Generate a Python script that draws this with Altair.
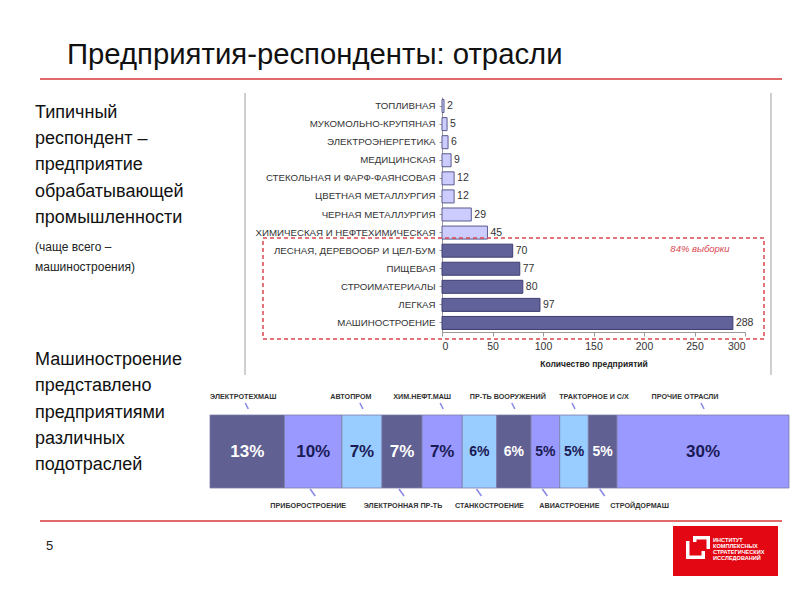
import altair as alt
import pandas as pd

# ---------------- data ----------------
industries = [
    "ТОПЛИВНАЯ", "МУКОМОЛЬНО-КРУПЯНАЯ", "ЭЛЕКТРОЭНЕРГЕТИКА", "МЕДИЦИНСКАЯ",
    "СТЕКОЛЬНАЯ И ФАРФ-ФАЯНСОВАЯ", "ЦВЕТНАЯ МЕТАЛЛУРГИЯ", "ЧЕРНАЯ МЕТАЛЛУРГИЯ",
    "ХИМИЧЕСКАЯ И НЕФТЕХИМИЧЕСКАЯ", "ЛЕСНАЯ, ДЕРЕВООБР И ЦЕЛ-БУМ", "ПИЩЕВАЯ",
    "СТРОИМАТЕРИАЛЫ", "ЛЕГКАЯ", "МАШИНОСТРОЕНИЕ",
]
counts = [2, 5, 6, 9, 12, 12, 29, 45, 70, 77, 80, 97, 288]
major_count = 5          # last five industries make up 84% of the sample
x_ticks = [0, 50, 100, 150, 200, 250, 300]

subsectors = [
    "ЭЛЕКТРОТЕХМАШ", "ПРИБОРОСТРОЕНИЕ", "АВТОПРОМ", "ЭЛЕКТРОННАЯ ПР-ТЬ",
    "ХИМ.НЕФТ.МАШ", "СТАНКОСТРОЕНИЕ", "ПР-ТЬ ВООРУЖЕНИЙ", "АВИАСТРОЕНИЕ",
    "ТРАКТОРНОЕ И С/Х", "СТРОЙДОРМАШ", "ПРОЧИЕ ОТРАСЛИ",
]
shares = [13, 10, 7, 7, 7, 6, 6, 5, 5, 5, 30]

title_text = "Предприятия-респонденты: отрасли"
left_text_1 = ["Типичный", "респондент  –", "предприятие", "обрабатывающей", "промышленности"]
left_note = ["(чаще всего –", "машиностроения)"]
left_text_2 = ["Машиностроение", "представлено", "предприятиями", "различных", "подотраслей"]
x_title = "Количество предприятий"
highlight_text = "84% выборки"
page_number = "5"
logo_lines = ["ИНСТИТУТ", "КОМПЛЕКСНЫХ", "СТРАТЕГИЧЕСКИХ", "ИССЛЕДОВАНИЙ"]

# ---------------- tables ----------------
bar_df = pd.DataFrame({
    "industry": industries,
    "count": counts,
    "major": [i >= len(industries) - major_count for i in range(len(industries))],
})

ends = pd.Series(shares).cumsum()
seg_df = pd.DataFrame({
    "name": subsectors,
    "share": shares,
    "start": ends - pd.Series(shares),
    "end": ends,
})
seg_df["mid"] = (seg_df["start"] + seg_df["end"]) / 2
seg_df["label"] = seg_df["share"].astype(str) + "%"
seg_df["shade"] = [["dark", "medium", "light"][i % 3] for i in range(len(seg_df))]
seg_df["side"] = ["top" if i % 2 == 0 else "bottom" for i in range(len(seg_df))]
seg_total = int(seg_df["end"].iloc[-1])

# ---------------- layout / style ----------------
W, H = 784, 584
def px(v):            # page pixel -> chart pixel (8px page margin)
    return v - 8

FONT = "Liberation Sans"
RED = "#E06A6A"
one = alt.Data(values=[{}])

# callout text nudges (style only), one per subsector
callout_dx = [-4, -5, -11, 1, -20, 10, -6, 24, 20, 37, -18]

layers = []

# ---- bar chart frame lines ----
for xv in (245, 771):
    layers.append(alt.Chart(one).mark_rule(color="#A0A0A0", strokeWidth=1).encode(
        x=alt.value(px(xv)), y=alt.value(px(93)), y2=alt.value(px(375))))

# ---- horizontal bar chart ----
xb = alt.Scale(domain=[0, 300], range=[px(442), px(745)])
yb = alt.Scale(domain=industries, range=[px(97), px(332)], paddingInner=0.28, paddingOuter=0.14)

bars = alt.Chart(bar_df).mark_bar(strokeWidth=1).encode(
    x=alt.X("count:Q", scale=xb, axis=alt.Axis(
        orient="bottom", offset=px(332) - H, values=x_ticks, grid=False,
        title=x_title, titleFont=FONT, titleFontSize=8.5, titleFontWeight="bold",
        titleColor="#222", titlePadding=8, labelFont=FONT, labelFontSize=10.5,
        labelColor="#333", labelPadding=5, tickSize=4, tickColor="#999",
        domainColor="#999")),
    y=alt.Y("industry:N", scale=yb, sort=None, axis=alt.Axis(
        orient="left", offset=-px(442), title=None, labelFont=FONT,
        labelFontSize=9.7, labelColor="#333", labelPadding=4, labelLimit=0,
        tickSize=3, tickColor="#999", domainColor="#999")),
    color=alt.condition("datum.major", alt.value("#62629A"), alt.value("#CCCCFF")),
    stroke=alt.condition("datum.major", alt.value("#3E3E72"), alt.value("#5A5A8E")),
)
bar_labels = alt.Chart(bar_df).mark_text(
    align="left", baseline="middle", dx=3, font=FONT, fontSize=10.5, color="#333"
).encode(
    x=alt.X("count:Q", scale=xb, axis=None),
    y=alt.Y("industry:N", scale=yb, sort=None, axis=None),
    text="count:Q",
)
layers += [bars, bar_labels]

# ---- dashed highlight box ----
layers.append(alt.Chart(one).mark_rect(
    fillOpacity=0, stroke="#D9474F", strokeDash=[4, 3], strokeWidth=1.5
).encode(x=alt.value(px(263)), x2=alt.value(px(764)),
         y=alt.value(px(238)), y2=alt.value(px(339))))
layers.append(alt.Chart(one).mark_text(
    text=highlight_text, font=FONT, fontSize=9.5, fontStyle="italic",
    color="#D9474F", align="center", baseline="middle"
).encode(x=alt.value(px(700)), y=alt.value(px(249))))

# ---- stacked share bar ----
xs = alt.Scale(domain=[0, seg_total], range=[px(210), px(789)])
shade_scale = alt.Scale(domain=["dark", "medium", "light"],
                        range=["#606092", "#9999FF", "#99CCFF"])
segs = alt.Chart(seg_df).mark_rect(stroke="#7C7CA8", strokeWidth=0.8).encode(
    x=alt.X("start:Q", scale=xs, axis=None), x2="end:Q",
    y=alt.value(px(415)), y2=alt.value(px(488)),
    color=alt.Color("shade:N", scale=shade_scale, legend=None),
)
seg_text = alt.Chart(seg_df).mark_text(
    font=FONT, fontWeight="bold", align="center", baseline="middle"
).encode(
    x=alt.X("mid:Q", scale=xs, axis=None),
    y=alt.value(px(452)),
    text="label:N",
    color=alt.condition("datum.shade == 'dark'", alt.value("#FFFFFF"), alt.value("#1A1A55")),
    size=alt.condition("datum.share >= 7", alt.value(17), alt.value(14)),
)
layers += [segs, seg_text]

# callout labels and small pointer lines
for i, row in seg_df.iterrows():
    sub = seg_df.iloc[[i]]
    top = row["side"] == "top"
    layers.append(alt.Chart(sub).mark_text(
        font=FONT, fontSize=7.2, fontWeight="bold", color="#333",
        align="center", baseline="middle", dx=callout_dx[i]
    ).encode(x=alt.X("mid:Q", scale=xs, axis=None),
             y=alt.value(px(397) if top else px(506)),
             text="name:N"))
    layers.append(alt.Chart(sub).mark_rule(
        color="#8A8AE6", strokeWidth=1.6,
        xOffset=-2 if top else -3, x2Offset=1 if top else 2
    ).encode(x=alt.X("mid:Q", scale=xs, axis=None), x2="mid:Q",
             y=alt.value(px(403) if top else px(489)),
             y2=alt.value(px(409) if top else px(496))))

# ---- slide text ----
layers.append(alt.Chart(one).mark_text(
    text=title_text, font=FONT, fontSize=29.3, color="#111",
    align="left", baseline="alphabetic"
).encode(x=alt.value(px(67)), y=alt.value(px(64))))
for yv in (79, 521):
    layers.append(alt.Chart(one).mark_rule(color=RED, strokeWidth=2).encode(
        x=alt.value(px(40)), x2=alt.value(px(782)), y=alt.value(px(yv))))

layers.append(alt.Chart(one).mark_text(
    text=left_text_1, font=FONT, fontSize=18, lineHeight=26.2, color="#111",
    align="left", baseline="alphabetic"
).encode(x=alt.value(px(35)), y=alt.value(px(118))))
layers.append(alt.Chart(one).mark_text(
    text=left_note, font=FONT, fontSize=12, lineHeight=20, color="#222",
    align="left", baseline="alphabetic"
).encode(x=alt.value(px(35)), y=alt.value(px(251))))
layers.append(alt.Chart(one).mark_text(
    text=left_text_2, font=FONT, fontSize=18, lineHeight=26.3, color="#111",
    align="left", baseline="alphabetic"
).encode(x=alt.value(px(35)), y=alt.value(px(365))))
layers.append(alt.Chart(one).mark_text(
    text=page_number, font=FONT, fontSize=13, color="#222",
    align="left", baseline="alphabetic"
).encode(x=alt.value(px(46)), y=alt.value(px(550))))

# ---- logo ----
layers.append(alt.Chart(one).mark_rect(color="#E30613").encode(
    x=alt.value(px(673)), x2=alt.value(px(778)), y=alt.value(px(526)), y2=alt.value(px(576))))
for (a, b, c, d) in [(693, 710, 536, 539.5), (706.5, 710, 536, 549), (693, 696.5, 536, 542),
                     (686, 689.5, 541, 559), (686, 705, 555.5, 559), (701.5, 705, 551, 559)]:
    layers.append(alt.Chart(one).mark_rect(color="#FFFFFF").encode(
        x=alt.value(px(a)), x2=alt.value(px(b)), y=alt.value(px(c)), y2=alt.value(px(d))))
layers.append(alt.Chart(one).mark_text(
    text=logo_lines, font=FONT, fontSize=5.6, fontWeight="bold", lineHeight=6,
    color="#FFFFFF", align="left", baseline="middle"
).encode(x=alt.value(px(713)), y=alt.value(px(540))))

chart = alt.layer(*layers).resolve_scale(
    x="independent", y="independent", color="independent"
).properties(
    width=W, height=H, padding=0, autosize="none", background="#FFFFFF"
).configure_view(stroke=None)

chart.save("out.html", embed_options={"renderer": "svg", "actions": False})
